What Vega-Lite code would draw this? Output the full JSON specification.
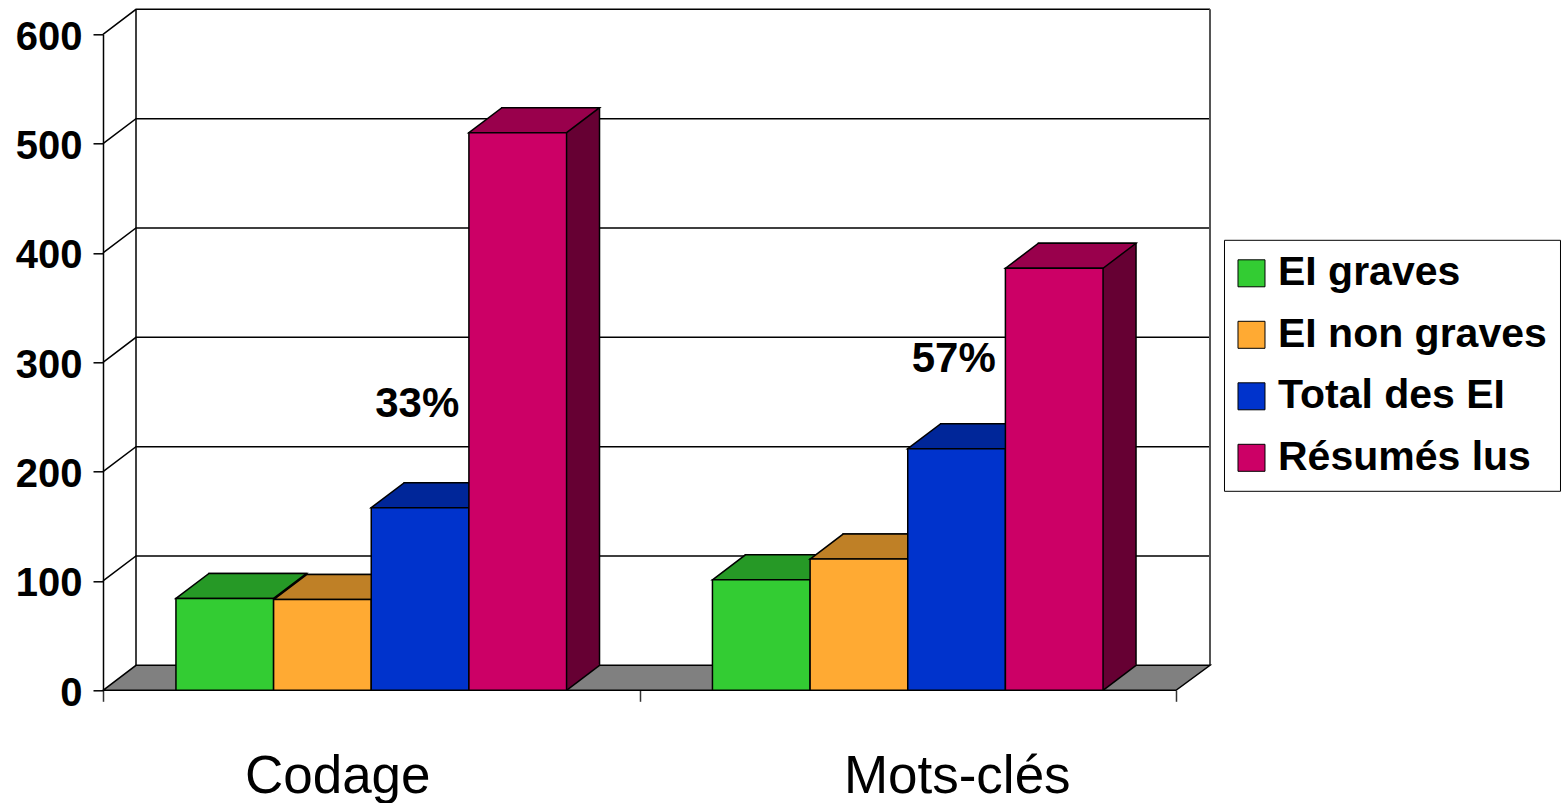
{
  "$schema": "https://vega.github.io/schema/vega-lite/v6.json",
  "width": 1073,
  "height": 656,
  "autosize": {"type": "none"},
  "padding": {"left": 103, "top": 34.3, "right": 388, "bottom": 113},
  "background": "white",
  "config": {"view": {"stroke": null}, "font": "Liberation Sans"},
  "datasets": {
    "bars": [
      {"cat": "Codage", "serie": "EI graves", "n": 84},
      {"cat": "Codage", "serie": "EI non graves", "n": 83},
      {"cat": "Codage", "serie": "Total des EI", "n": 167},
      {"cat": "Codage", "serie": "Résumés lus", "n": 510},
      {"cat": "Mots-clés", "serie": "EI graves", "n": 101},
      {"cat": "Mots-clés", "serie": "EI non graves", "n": 120},
      {"cat": "Mots-clés", "serie": "Total des EI", "n": 221},
      {"cat": "Mots-clés", "serie": "Résumés lus", "n": 386}
    ],
    "wall": [{"v": 100}, {"v": 200}, {"v": 300}, {"v": 400}, {"v": 500}, {"v": 600}],
    "notes": [
      {"cat": "Codage", "serie": "Total des EI", "label": "33%", "pos": 262},
      {"cat": "Mots-clés", "serie": "Total des EI", "label": "57%", "pos": 303}
    ]
  },
  "resolve": {"scale": {"fill": "independent", "xOffset": "independent"}},
  "layer": [
    {
      "data": {"name": "wall"},
      "mark": {"type": "point", "shape": "M0,0L33,-25L1107,-25", "size": 4, "filled": false, "stroke": "black", "strokeWidth": 1.5, "opacity": 1},
      "encoding": {
        "x": {"datum": "Codage", "bandPosition": 0},
        "y": {"field": "v", "type": "quantitative"}
      }
    },
    {
      "data": {"values": [{"a": 1}]},
      "mark": {"type": "rule", "stroke": "black", "strokeWidth": 1.5, "xOffset": 33, "yOffset": -25, "y2Offset": -25},
      "encoding": {
        "x": {"datum": "Codage", "bandPosition": 0},
        "y": {"datum": 600, "type": "quantitative"},
        "y2": {"datum": 0}
      }
    },
    {
      "data": {"values": [{"a": 1}]},
      "mark": {"type": "rule", "stroke": "#555555", "strokeWidth": 2, "xOffset": 34, "yOffset": -25, "y2Offset": -25},
      "encoding": {
        "x": {"datum": "Mots-clés", "bandPosition": 1},
        "y": {"datum": 600, "type": "quantitative"},
        "y2": {"datum": 0}
      }
    },
    {
      "data": {"values": [{"a": 1}]},
      "mark": {"type": "point", "shape": "M0,0L33,-25L1107,-25L1073,0Z", "size": 4, "filled": true, "fill": "#808080", "stroke": "black", "strokeWidth": 1.5, "opacity": 1},
      "encoding": {
        "x": {"datum": "Codage", "bandPosition": 0},
        "y": {"datum": 0, "type": "quantitative"}
      }
    },
    {
      "data": {"name": "bars"},
      "mark": {"type": "bar", "stroke": "black", "strokeWidth": 1.5, "yOffset": -25, "y2Offset": -25},
      "encoding": {
        "x": {"field": "cat", "type": "nominal", "sort": ["Codage", "Mots-clés"]},
        "xOffset": {"field": "serie", "type": "nominal", "sort": ["EI graves", "EI non graves", "Total des EI", "Résumés lus"],
          "scale": {"type": "band", "paddingInner": 0, "paddingOuter": 0.747, "align": 0.726}},
        "y": {"field": "n", "type": "quantitative"},
        "fill": {"field": "serie", "type": "nominal", "legend": null,
          "scale": {"domain": ["EI graves", "EI non graves", "Total des EI", "Résumés lus"], "range": ["#1A661A", "#805519", "#001966", "#660033"]}}
      }
    },
    {
      "data": {"name": "bars"},
      "mark": {"type": "point", "shape": "M48.8,0L48.8,-26.2L81,-26.2L81.8,-25Z", "size": 4, "filled": true, "strokeWidth": 0, "opacity": 1},
      "encoding": {
        "x": {"field": "cat", "type": "nominal", "sort": ["Codage", "Mots-clés"]},
        "xOffset": {"field": "serie", "type": "nominal", "sort": ["EI graves", "EI non graves", "Total des EI", "Résumés lus"],
          "scale": {"type": "band", "paddingInner": 0, "paddingOuter": 0.747}},
        "y": {"datum": 0, "type": "quantitative"},
        "fill": {"field": "serie", "type": "nominal", "legend": null,
          "scale": {"domain": ["EI graves", "EI non graves", "Total des EI", "Résumés lus"], "range": ["#1A661A", "#805519", "#001966", "#660033"]}}
      }
    },
    {
      "data": {"name": "bars"},
      "mark": {"type": "point", "shape": "M48.8,0L81.8,-25", "size": 4, "filled": false, "stroke": "black", "strokeWidth": 1.5, "opacity": 1},
      "encoding": {
        "x": {"field": "cat", "type": "nominal", "sort": ["Codage", "Mots-clés"]},
        "xOffset": {"field": "serie", "type": "nominal", "sort": ["EI graves", "EI non graves", "Total des EI", "Résumés lus"],
          "scale": {"type": "band", "paddingInner": 0, "paddingOuter": 0.747}},
        "y": {"datum": 0, "type": "quantitative"}
      }
    },
    {
      "data": {"name": "bars"},
      "mark": {"type": "point", "shape": "M-48.8,0L-15.8,-25L81.8,-25L48.8,0Z", "size": 4, "filled": true, "stroke": "black", "strokeWidth": 1.5, "opacity": 1},
      "encoding": {
        "x": {"field": "cat", "type": "nominal", "sort": ["Codage", "Mots-clés"]},
        "xOffset": {"field": "serie", "type": "nominal", "sort": ["EI graves", "EI non graves", "Total des EI", "Résumés lus"],
          "scale": {"type": "band", "paddingInner": 0, "paddingOuter": 0.747}},
        "y": {"field": "n", "type": "quantitative"},
        "fill": {"field": "serie", "type": "nominal", "legend": null,
          "scale": {"domain": ["EI graves", "EI non graves", "Total des EI", "Résumés lus"], "range": ["#269926", "#BF8026", "#002699", "#99004C"]}}
      }
    },
    {
      "data": {"name": "bars"},
      "mark": {"type": "bar", "stroke": "black", "strokeWidth": 1.5},
      "encoding": {
        "x": {"field": "cat", "type": "nominal", "sort": ["Codage", "Mots-clés"], "title": null,
          "scale": {"paddingInner": 0, "paddingOuter": 0},
          "axis": {"domain": false, "tickBand": "extent", "tickSize": 11, "tickColor": "#333333", "tickWidth": 1.5,
            "labelFontSize": 53, "labelFont": "Liberation Sans", "labelColor": "black", "labelAngle": 0, "labelLimit": 0,
            "labelAlign": "center", "labelBaseline": "alphabetic", "labelPadding": 91,
            "labelOffset": {"condition": {"test": "datum.value === 'Codage'", "value": -34}, "value": 49}}},
        "xOffset": {"field": "serie", "type": "nominal", "sort": ["EI graves", "EI non graves", "Total des EI", "Résumés lus"],
          "scale": {"type": "band", "paddingInner": 0, "paddingOuter": 0.747}},
        "y": {"field": "n", "type": "quantitative", "title": null,
          "scale": {"domain": [0, 600], "nice": false},
          "axis": {"values": [0, 100, 200, 300, 400, 500, 600], "grid": false, "domainColor": "black", "domainWidth": 1.5,
            "tickColor": "black", "tickWidth": 1.5, "tickSize": 10, "labelPadding": 11,
            "labelFontSize": 40, "labelFontWeight": "bold", "labelFont": "Liberation Sans", "labelColor": "black", "labelOffset": 3}},
        "color": {"field": "serie", "type": "nominal",
          "scale": {"domain": ["EI graves", "EI non graves", "Total des EI", "Résumés lus"], "range": ["#33CC33", "#FFAA33", "#0033CC", "#CC0066"]},
          "legend": {"orient": "none", "legendX": 1121, "legendY": 205.5, "title": null, "labelLimit": 0,
            "labelFontSize": 41, "labelFontWeight": "bold", "labelFont": "Liberation Sans", "labelColor": "black",
            "symbolType": "square", "symbolSize": 729, "symbolStrokeColor": "black", "symbolStrokeWidth": 1, "symbolOffset": -6,
            "labelOffset": 6, "rowPadding": 19.5, "padding": 13, "strokeColor": "black", "fillColor": "white"}}
      }
    },
    {
      "data": {"name": "notes"},
      "mark": {"type": "text", "fontSize": 42, "fontWeight": "bold", "font": "Liberation Sans", "color": "black", "baseline": "middle", "dx": 46},
      "encoding": {
        "x": {"field": "cat", "type": "nominal", "sort": ["Codage", "Mots-clés"]},
        "xOffset": {"field": "serie", "type": "nominal", "sort": ["EI graves", "EI non graves", "Total des EI", "Résumés lus"],
          "scale": {"type": "band", "paddingInner": 0, "paddingOuter": 0.747}},
        "y": {"field": "pos", "type": "quantitative"},
        "text": {"field": "label"}
      }
    }
  ]
}
